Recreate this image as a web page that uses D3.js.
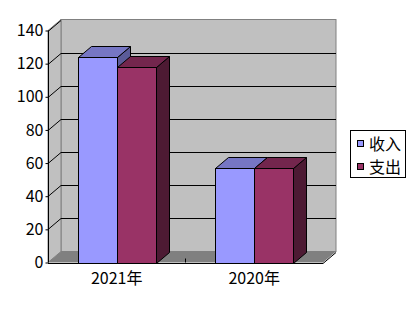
<!DOCTYPE html>
<html>
<head>
<meta charset="utf-8">
<script src="https://cdnjs.cloudflare.com/ajax/libs/d3/7.8.5/d3.min.js"></script>
<style>
  body { margin: 0; background: #fff; }
  text { font-family: "Noto Sans CJK SC", sans-serif; fill: #000; }
</style>
</head>
<body>
<div id="chart"></div>
<script>
// data
var categories = ["2021年", "2020年"];
var seriesNames = ["收入", "支出"];
var income = [124, 57];
var expense = [118, 57];
var yTicks = [0, 20, 40, 60, 80, 100, 120, 140];

var colors = {
  "收入": { front: "#9999ff", top: "#7676c4", side: "#5b5b99" },
  "支出": { front: "#993366", top: "#73264d", side: "#4d1a33" }
};

var W = 416, H = 311;
var dx = 13, dy = -11;   // 3d depth offset

var svg = d3.select("#chart").append("svg")
  .attr("width", W).attr("height", H);

var y = d3.scaleLinear().domain([0, 140]).range([262.5, 30.5]);
var x = d3.scaleBand().domain(categories).range([48, 323])
  .paddingInner(0.433).paddingOuter(0.2165);
var xs = d3.scaleBand().domain(seriesNames).range([0, x.bandwidth()]);

var x0 = 48, x1 = 323, yb = y(0), yt = y(140);

// walls
var walls = svg.append("g");
// back wall
walls.append("rect")
  .attr("x", x0 + dx).attr("y", yt + dy)
  .attr("width", x1 - x0).attr("height", yb - yt)
  .attr("fill", "#c0c0c0").attr("stroke", "#808080");
// left wall
walls.append("path")
  .attr("d", "M" + x0 + "," + yb + "L" + x0 + "," + yt + "L" + (x0 + dx) + "," + (yt + dy) +
    "L" + (x0 + dx) + "," + (yb + dy) + "Z")
  .attr("fill", "#c0c0c0").attr("stroke", "#808080");
// floor
walls.append("path")
  .attr("d", "M" + x0 + "," + yb + "L" + (x0 + dx) + "," + (yb + dy) + "L" + (x1 + dx) + "," + (yb + dy) +
    "L" + x1 + "," + yb + "Z")
  .attr("fill", "#808080");

// gridlines (back wall + left wall diagonals)
yTicks.filter(function (d) { return d > 0; }).forEach(function (d) {
  var yy = Math.round(y(d)) + 0.5;
  if (d < 140) {
    svg.append("line")
      .attr("x1", x0 + dx).attr("x2", x1 + dx)
      .attr("y1", yy + dy).attr("y2", yy + dy)
      .attr("stroke", "#000");
  }
  svg.append("line")
    .attr("x1", x0).attr("y1", yy)
    .attr("x2", x0 + dx).attr("y2", yy + dy)
    .attr("stroke", "#000");
});

// bars
var rows = [];
categories.forEach(function (c, i) {
  rows.push({ cat: c, s: "收入", v: income[i] });
  rows.push({ cat: c, s: "支出", v: expense[i] });
});

var bars = svg.append("g").selectAll("g").data(rows).enter().append("g");
bars.each(function (d) {
  var g = d3.select(this);
  var bx = Math.round(x(d.cat) + xs(d.s)) + 0.5;
  var bw = Math.round(xs.bandwidth());
  var by = Math.round(y(d.v)) + 0.5;
  var bb = Math.round(yb) + 0.5;
  var col = colors[d.s];
  // side
  g.append("path")
    .attr("d", "M" + (bx + bw) + "," + by + "L" + (bx + bw + dx) + "," + (by + dy) +
      "L" + (bx + bw + dx) + "," + (bb + dy) + "L" + (bx + bw) + "," + bb + "Z")
    .attr("fill", col.side).attr("stroke", "#000");
  // top
  g.append("path")
    .attr("d", "M" + bx + "," + by + "L" + (bx + dx) + "," + (by + dy) +
      "L" + (bx + bw + dx) + "," + (by + dy) + "L" + (bx + bw) + "," + by + "Z")
    .attr("fill", col.top).attr("stroke", "#000");
  // front
  g.append("rect")
    .attr("x", bx).attr("y", by).attr("width", bw).attr("height", bb - by)
    .attr("fill", col.front).attr("stroke", "#000");
});

// front axes
svg.append("line")
  .attr("x1", x0 + 0.5).attr("x2", x0 + 0.5).attr("y1", yt).attr("y2", yb)
  .attr("stroke", "#000");
svg.append("line")
  .attr("x1", x0).attr("x2", x1).attr("y1", Math.round(yb) + 0.5).attr("y2", Math.round(yb) + 0.5)
  .attr("stroke", "#000");
svg.append("line")
  .attr("x1", x1).attr("y1", Math.round(yb) + 0.5)
  .attr("x2", x1 + dx).attr("y2", Math.round(yb) + 0.5 + dy)
  .attr("stroke", "#000");

// y axis ticks + labels
var yAxis = d3.axisLeft(y).tickValues(yTicks).tickSize(3).tickPadding(2);
var ga = svg.append("g").attr("transform", "translate(" + (x0 + 0.5) + ",0)").call(yAxis);
ga.select(".domain").remove();
ga.selectAll("text").style("font-size", "16px")
  .style("font-family", "'Noto Sans CJK SC', sans-serif");

// category tick between groups
svg.append("line")
  .attr("x1", 185.5).attr("x2", 185.5).attr("y1", yb - 4).attr("y2", yb)
  .attr("stroke", "#000");

// x labels
svg.append("g").selectAll("text").data(categories).enter().append("text")
  .attr("x", function (d) { return x(d) + x.bandwidth() / 2; })
  .attr("y", 284)
  .attr("text-anchor", "middle")
  .style("font-size", "16px")
  .text(function (d) { return d; });

// legend
var lg = svg.append("g");
lg.append("rect").attr("x", 350.5).attr("y", 130.5).attr("width", 55).attr("height", 47)
  .attr("fill", "#fff").attr("stroke", "#000");
seriesNames.forEach(function (s, i) {
  var cy = 144 + i * 23;
  lg.append("rect").attr("x", 357.5).attr("y", cy - 3.5).attr("width", 6).attr("height", 6)
    .attr("fill", colors[s].front).attr("stroke", "#000");
  lg.append("text").attr("x", 369).attr("y", cy + 6)
    .style("font-size", "16px").text(s);
});
</script>
</body>
</html>
